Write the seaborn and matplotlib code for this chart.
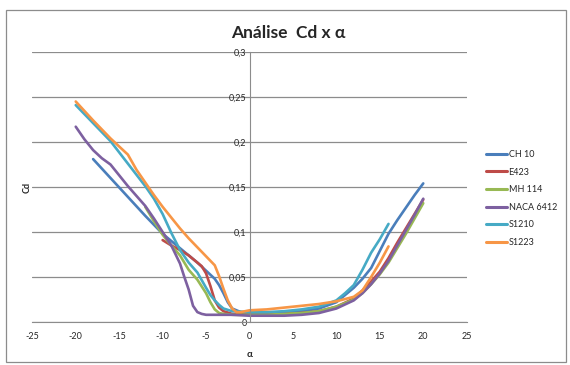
import numpy as np
import pandas as pd
import matplotlib
matplotlib.use("Agg")
import matplotlib.pyplot as plt
import seaborn as sns
from matplotlib.ticker import FuncFormatter, MultipleLocator
from matplotlib.patches import Rectangle

# values
names = ["CH 10", "E423", "MH 114", "NACA 6412", "S1210", "S1223"]
colors = ["#4A7EBB", "#BE4B48", "#98B954", "#7D60A0", "#46AAC5", "#F79646"]

ch10_a = [-18, -16, -14, -12, -10, -8, -7, -6, -5, -4, -3.5, -3, -2.5, -2, -1, 0, 2, 4, 6, 8, 10, 11, 12, 13, 14, 15,
          16, 17, 18, 19, 20]
ch10_cd = [0.181, 0.160, 0.139, 0.118, 0.098, 0.082, 0.074, 0.066, 0.057, 0.048, 0.041, 0.032, 0.022, 0.015, 0.011,
           0.010, 0.010, 0.011, 0.012, 0.015, 0.022, 0.030, 0.038, 0.048, 0.060, 0.079, 0.098, 0.113, 0.127, 0.141,
           0.154]

e423_a = [-10, -9, -8, -7, -6, -5.5, -5, -4.5, -4, -3.5, -3, -2, 0, 2, 4, 6, 8, 10, 12, 13, 14, 15, 16, 17, 18, 19, 20]
e423_cd = [0.091, 0.085, 0.080, 0.074, 0.066, 0.062, 0.054, 0.040, 0.024, 0.016, 0.012, 0.009, 0.008, 0.008, 0.009,
           0.010, 0.012, 0.017, 0.026, 0.035, 0.045, 0.056, 0.071, 0.088, 0.104, 0.120, 0.136]

mh114_a = [-12, -11, -10, -9, -8, -7, -6, -5, -4.5, -4, -3.5, -3, -2, 0, 2, 4, 6, 8, 10, 12, 13, 14, 15, 16, 17, 18,
           19, 20]
mh114_cd = [0.128, 0.112, 0.097, 0.085, 0.074, 0.058, 0.047, 0.032, 0.022, 0.014, 0.010, 0.009, 0.008, 0.008, 0.008,
            0.009, 0.010, 0.012, 0.017, 0.025, 0.032, 0.042, 0.053, 0.066, 0.082, 0.098, 0.115, 0.132]

naca_a = [-20, -19, -18, -17, -16, -15, -14, -13, -12, -11, -10, -9, -8, -7.5, -7, -6.5, -6, -5.5, -5, -4, -2, 0, 2,
          4, 6, 8, 10, 12, 13, 14, 15, 16, 17, 18, 19, 20]
naca_cd = [0.217, 0.203, 0.191, 0.182, 0.175, 0.163, 0.151, 0.140, 0.129, 0.115, 0.100, 0.085, 0.065, 0.050, 0.036,
           0.018, 0.011, 0.009, 0.008, 0.008, 0.008, 0.007, 0.007, 0.007, 0.008, 0.010, 0.015, 0.024, 0.032, 0.042,
           0.054, 0.068, 0.085, 0.102, 0.119, 0.137]

s1210_a = [-20, -18, -16, -14, -12, -11, -10, -9, -8, -7, -6, -5, -4.5, -4, -3.5, -3, -2, 0, 2, 4, 6, 8, 10, 11, 12,
           13, 14, 15, 16]
s1210_cd = [0.241, 0.221, 0.201, 0.176, 0.151, 0.137, 0.120, 0.099, 0.080, 0.066, 0.055, 0.038, 0.030, 0.024, 0.019,
            0.015, 0.012, 0.011, 0.011, 0.012, 0.014, 0.017, 0.024, 0.032, 0.041, 0.058, 0.077, 0.092, 0.109]

s1223_a = [-20, -18, -16, -14, -13, -12, -11, -10, -9, -8, -7, -6, -5, -4, -3.5, -3, -2.5, -2, -1.5, -1, 0, 2, 4, 6,
           8, 10, 12, 13, 14, 15, 16]
s1223_cd = [0.245, 0.224, 0.204, 0.186, 0.169, 0.155, 0.141, 0.128, 0.116, 0.104, 0.093, 0.083, 0.073, 0.063, 0.051,
            0.037, 0.024, 0.015, 0.011, 0.011, 0.013, 0.014, 0.016, 0.018, 0.020, 0.023, 0.028, 0.035, 0.050, 0.066,
            0.084]

alphas = [ch10_a, e423_a, mh114_a, naca_a, s1210_a, s1223_a]
cds = [ch10_cd, e423_cd, mh114_cd, naca_cd, s1210_cd, s1223_cd]

frames = []
for n, a, c in zip(names, alphas, cds):
    frames.append(pd.DataFrame({"alpha": a, "cd": c, "perfil": n}))
df = pd.concat(frames, ignore_index=True)

sns.set_style("white")
plt.rcParams["font.family"] = ["Lato", "DejaVu Sans"]
plt.rcParams["axes.unicode_minus"] = False

fig = plt.figure(figsize=(5.7, 3.65), dpi=100)
ax = fig.add_axes([32.3 / 570, 43 / 365, 434.4 / 570, 270 / 365])

sns.lineplot(data=df, x="alpha", y="cd", hue="perfil", hue_order=names, palette=colors,
             units="perfil", estimator=None, sort=False, linewidth=1.9, ax=ax)

ax.set_xlim(-25, 25)
ax.set_ylim(0, 0.3)
ax.xaxis.set_major_locator(MultipleLocator(5))
ax.yaxis.set_major_locator(MultipleLocator(0.05))
ax.yaxis.set_major_formatter(FuncFormatter(lambda v, p: f"{v:.2f}".rstrip("0").rstrip(".").replace(".", ",") if v else "0"))

ax.grid(axis="y", color="#8c8c8c", linewidth=0.9)
ax.set_axisbelow(True)
for s in ["top", "right"]:
    ax.spines[s].set_visible(False)
ax.spines["left"].set_position(("data", 0))
ax.spines["left"].set_color("#8c8c8c")
ax.spines["bottom"].set_color("#8c8c8c")
ax.tick_params(axis="x", direction="out", length=3, color="#8c8c8c", labelsize=6.5, pad=4)
ax.tick_params(axis="y", direction="out", length=0, labelsize=6.5, pad=2)

ax.set_xlabel("α", fontsize=7, fontweight="bold", labelpad=7)
ax.set_ylabel("")
fig.text(27 / 570, 1 - 187 / 365, "Cd", rotation=90, fontsize=6.5, fontweight="bold", ha="center", va="center")

fig.text(288 / 570, 1 - 33 / 365, "Análise  Cd x α", fontsize=12.5, fontweight="bold", ha="center", va="center")

leg = ax.legend(loc="upper left", bbox_to_anchor=(486 / 570, 1 - 150 / 365), bbox_transform=fig.transFigure,
                frameon=False, fontsize=6.5, handlelength=2.3, handletextpad=0.2, labelspacing=0.95,
                borderaxespad=0, borderpad=0)
for line in leg.get_lines():
    line.set_linewidth(2.2)

fig.patches.append(Rectangle((6 / 570, 1 - 362 / 365), 560 / 570, 352 / 365, transform=fig.transFigure,
                             fill=False, edgecolor="#8c8c8c", linewidth=0.9))

fig.savefig("out.png", dpi=100, facecolor="white")
